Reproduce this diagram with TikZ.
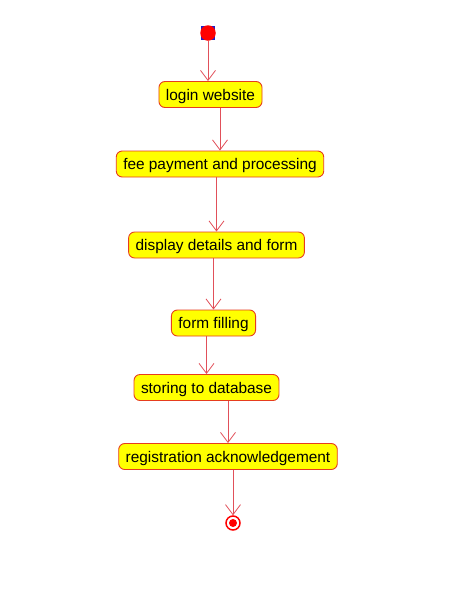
\documentclass[tikz,border=0pt]{standalone}
\usepackage{fontspec}
\setmainfont{Liberation Sans}
\usetikzlibrary{arrows.meta}
\definecolor{boxfill}{RGB}{255,255,0}
\definecolor{boxline}{RGB}{230,60,30}
\definecolor{flowline}{RGB}{225,80,90}
\definecolor{handle}{RGB}{30,30,200}
\begin{document}
\begin{tikzpicture}[x=1pt, y=-1pt,
    act/.style={draw=boxline, line width=0.9pt, fill=boxfill, rounded corners=6pt, minimum height=26pt, inner xsep=7pt, text height=12pt, text depth=1pt, font=\fontsize{15.4}{18}\selectfont},
    flow/.style={draw=flowline, line width=0.8pt, -{Straight Barb[length=10pt, width=15pt]}},
    initial/.style={circle, fill=red, minimum size=15.5pt, inner sep=0pt},
    final/.style={circle, draw=red, line width=1.5pt, fill=white, minimum size=14pt, inner sep=0pt}
  ]
    \useasboundingbox (0,0) rectangle (460,603);
    \fill[handle] (201,26) rectangle (215,40);
    \node[initial] (start) at (208,33) {};
    \node[act] (login) at (210.5,94.5) {login website};
    \node[act] (fee) at (220,164) {fee payment and processing};
    \node[act] (disp) at (216.5,245) {display details and form};
    \node[act] (fill) at (213.5,323) {form filling};
    \node[act] (store) at (206.5,387.5) {storing to database};
    \node[act] (ack) at (228,456.5) {registration acknowledgement};
    \node[final] (stop) at (233,523) {};
    \fill[red] (stop) circle (4pt);
    \draw[flow] (start) -- (start |- login.north);
    \draw[flow] (login.south -| fee.north) -- (fee.north);
    \draw[flow] (fee.south -| disp.north) -- (disp.north);
    \draw[flow] (disp.south -| fill.north) -- (fill.north);
    \draw[flow] (fill.south -| store.north) -- (store.north);
    \draw[flow] (store.south -| ack.north) -- (ack.north);
    \draw[flow] (ack.south -| stop.north) -- (stop.north);
\end{tikzpicture}
\end{document}
